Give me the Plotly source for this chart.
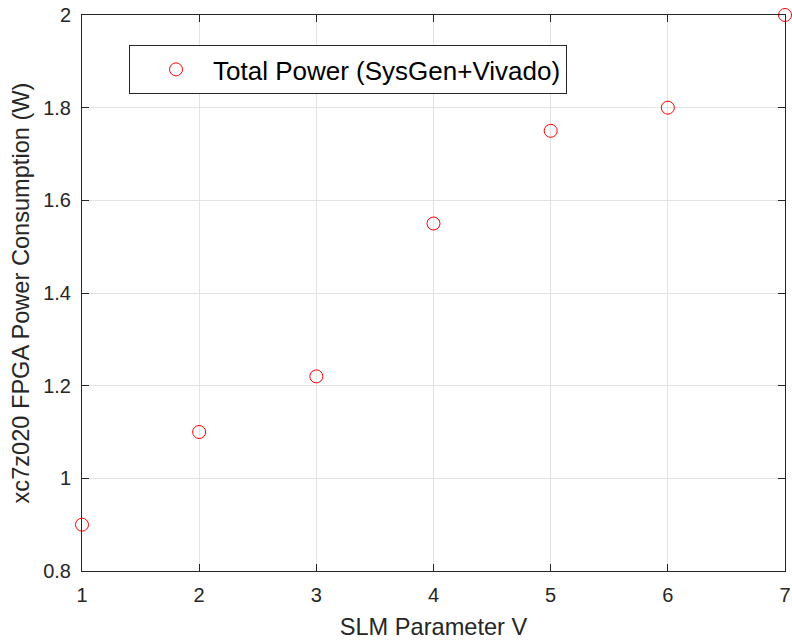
import plotly.graph_objects as go

v_param = [1, 2, 3, 4, 5, 6, 7]
total_power = [0.90, 1.10, 1.22, 1.55, 1.75, 1.80, 2.00]
series_name = "Total Power (SysGen+Vivado)"
x_title = "SLM Parameter V"
y_title = "xc7z020 FPGA Power Consumption (W)"

axis_col = "#262626"
grid_col = "#e3e3e3"
font_family = "Liberation Sans, Arial, Helvetica, sans-serif"

fig = go.Figure()
fig.add_trace(go.Scatter(
    x=v_param, y=total_power, mode="markers", name=series_name,
    marker=dict(symbol="circle-open", size=13, color="#ff0000", line=dict(width=1, color="#ff0000")),
    cliponaxis=False,
))

common = dict(
    showline=True, linecolor=axis_col, linewidth=1, mirror="ticks",
    ticks="inside", ticklen=7, tickcolor=axis_col, tickwidth=1,
    showgrid=True, gridcolor=grid_col, gridwidth=1, zeroline=False,
    tickfont=dict(size=20, color=axis_col, family=font_family),
    automargin=False,
)
fig.update_xaxes(range=[1, 7], dtick=1, tick0=1,
                 title=dict(text=x_title, font=dict(size=23.6, color=axis_col, family=font_family), standoff=13),
                 ticklabelstandoff=6, **common)
fig.update_yaxes(range=[0.8, 2], dtick=0.2, tick0=0.8,
                 title=dict(text=y_title, font=dict(size=23.6, color=axis_col, family=font_family), standoff=6),
                 ticklabelstandoff=6, **common)

fig.update_layout(
    width=792, height=644,
    margin=dict(l=82, r=7, t=15, b=73, autoexpand=False),
    paper_bgcolor="white", plot_bgcolor="white",
    font=dict(family=font_family, color=axis_col),
    showlegend=True,
    legend=dict(
        x=(129 - 82) / 703, y=(571 - 45) / 556, xanchor="left", yanchor="top",
        bgcolor="white", bordercolor=axis_col, borderwidth=1,
        font=dict(size=26, color="#000000", family=font_family),
        itemwidth=64, indentation=9,
    ),
)

fig.write_html(
    "out.html",
    config={"displayModeBar": False},
    post_script="document.body.style.margin='0';document.body.style.padding='0';",
)
